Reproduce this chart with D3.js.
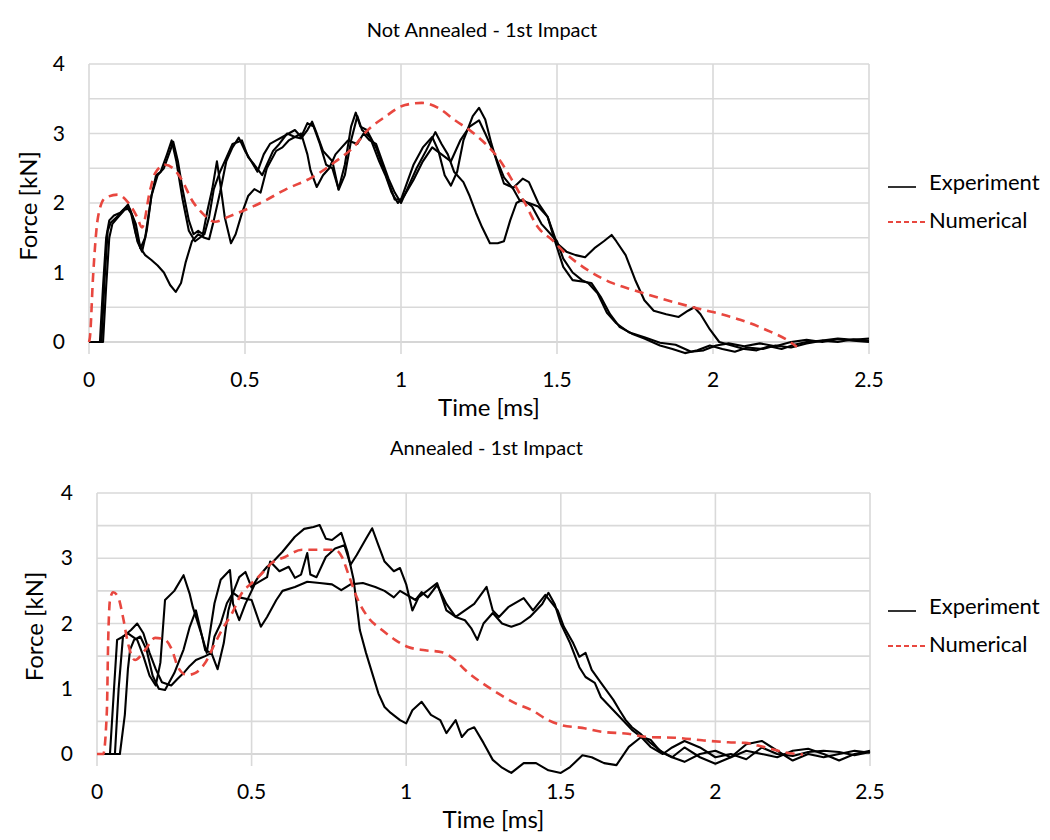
<!DOCTYPE html>
<html>
<head>
<meta charset="utf-8">
<script src="https://cdn.jsdelivr.net/npm/d3@7"></script>
<style>
  body { margin: 0; background: #fff; }
  text { font-family: Lato, "Open Sans", sans-serif; fill: #000; }
</style>
</head>
<body>
<svg width="1050" height="840"></svg>
<script>
// ---- data (time in ms, force in kN) ----
var xTicks = [0, 0.5, 1, 1.5, 2, 2.5];
var yTicks = [0, 1, 2, 3, 4];
var yGrid = [0, 0.5, 1, 1.5, 2, 2.5, 3, 3.5, 4];
var legendLabels = ["Experiment", "Numerical"];

// Not annealed - experiments
var naExp1 = [[0,0],[0.035,0],[0.045,0.8],[0.055,1.5],[0.065,1.75],[0.08,1.82],[0.1,1.86],[0.12,1.95],[0.135,1.85],[0.15,1.55],[0.165,1.35],[0.18,1.25],[0.2,1.18],[0.22,1.1],[0.24,1.0],[0.26,0.82],[0.278,0.72],[0.295,0.85],[0.31,1.15],[0.33,1.45],[0.35,1.55],[0.37,1.5],[0.385,1.48],[0.4,1.75],[0.42,2.15],[0.44,2.6],[0.46,2.8],[0.48,2.94],[0.5,2.75],[0.52,2.6],[0.54,2.45],[0.56,2.7],[0.58,2.85],[0.6,2.9],[0.62,2.95],[0.64,3.0],[0.66,3.05],[0.68,2.95],[0.7,3.15],[0.72,3.1],[0.74,2.85],[0.76,2.55],[0.78,2.5],[0.8,2.2],[0.82,2.55],[0.84,3.1],[0.855,3.3],[0.87,3.1],[0.89,3.05],[0.92,2.8],[0.94,2.55],[0.96,2.3],[0.98,2.05],[1.0,2.05],[1.02,2.3],[1.04,2.55],[1.07,2.8],[1.1,2.95],[1.12,2.75],[1.14,2.4],[1.16,2.25],[1.18,2.45],[1.2,2.9],[1.23,3.25],[1.25,3.37],[1.27,3.2],[1.29,2.85],[1.31,2.55],[1.33,2.28],[1.36,2.22],[1.39,2.35],[1.41,2.3],[1.44,2.0],[1.47,1.8],[1.5,1.42],[1.53,1.3],[1.56,1.25],[1.59,1.22],[1.62,1.35],[1.65,1.45],[1.675,1.54],[1.69,1.45],[1.72,1.25],[1.75,0.9],[1.78,0.6],[1.81,0.45],[1.85,0.4],[1.89,0.36],[1.92,0.45],[1.94,0.5],[1.96,0.4],[1.99,0.18],[2.02,0.0],[2.06,-0.05],[2.1,-0.1],[2.14,-0.12],[2.18,-0.06],[2.22,-0.1],[2.26,-0.04],[2.3,0.0],[2.35,0.02],[2.4,0.05],[2.45,0.03],[2.5,0.05]];
var naExp2 = [[0,0],[0.04,0],[0.05,0.9],[0.06,1.6],[0.07,1.72],[0.09,1.8],[0.11,1.9],[0.13,1.92],[0.15,1.7],[0.165,1.35],[0.18,1.5],[0.2,2.1],[0.22,2.4],[0.24,2.5],[0.26,2.75],[0.27,2.88],[0.285,2.6],[0.3,2.2],[0.32,1.75],[0.335,1.55],[0.35,1.6],[0.365,1.55],[0.38,1.9],[0.395,2.2],[0.41,2.6],[0.42,2.3],[0.435,1.8],[0.455,1.42],[0.47,1.55],[0.49,1.85],[0.51,2.1],[0.53,2.2],[0.55,2.15],[0.57,2.5],[0.6,2.75],[0.62,2.8],[0.64,2.9],[0.66,2.95],[0.68,3.0],[0.7,2.7],[0.71,2.47],[0.73,2.23],[0.75,2.4],[0.77,2.5],[0.79,2.7],[0.81,2.8],[0.83,2.9],[0.86,2.85],[0.88,3.0],[0.9,2.9],[0.92,2.85],[0.94,2.6],[0.96,2.35],[0.98,2.15],[1.0,2.0],[1.02,2.2],[1.05,2.5],[1.08,2.75],[1.11,3.02],[1.13,2.85],[1.15,2.7],[1.17,2.45],[1.2,2.3],[1.22,2.1],[1.24,1.86],[1.26,1.65],[1.285,1.42],[1.31,1.42],[1.33,1.45],[1.35,1.75],[1.37,2.0],[1.39,2.05],[1.42,1.95],[1.45,1.7],[1.48,1.55],[1.5,1.45],[1.52,1.2],[1.55,1.0],[1.58,0.89],[1.6,0.85],[1.63,0.7],[1.66,0.42],[1.69,0.27],[1.73,0.14],[1.78,0.07],[1.83,-0.01],[1.88,-0.04],[1.93,-0.14],[1.97,-0.12],[2.01,-0.05],[2.05,-0.02],[2.1,-0.06],[2.15,-0.02],[2.2,-0.06],[2.25,0.0],[2.3,0.03],[2.35,0.0],[2.4,0.04],[2.45,0.02],[2.5,0.0]];
var naExp3 = [[0,0],[0.045,0],[0.055,0.8],[0.065,1.5],[0.075,1.7],[0.09,1.78],[0.11,1.88],[0.125,1.98],[0.14,1.8],[0.155,1.45],[0.17,1.3],[0.185,1.6],[0.2,2.1],[0.215,2.4],[0.23,2.45],[0.25,2.7],[0.265,2.9],[0.28,2.6],[0.3,2.05],[0.32,1.6],[0.34,1.45],[0.355,1.5],[0.37,1.55],[0.385,1.8],[0.4,2.2],[0.42,2.45],[0.44,2.65],[0.46,2.85],[0.49,2.9],[0.51,2.66],[0.53,2.55],[0.555,2.4],[0.57,2.55],[0.59,2.75],[0.61,2.85],[0.635,3.0],[0.66,2.95],[0.68,2.93],[0.7,3.05],[0.715,3.17],[0.73,3.0],[0.75,2.75],[0.78,2.6],[0.8,2.19],[0.82,2.4],[0.84,2.9],[0.86,3.25],[0.875,3.05],[0.9,2.95],[0.93,2.6],[0.95,2.4],[0.97,2.15],[0.99,2.0],[1.01,2.1],[1.04,2.33],[1.07,2.6],[1.1,2.8],[1.13,2.7],[1.16,2.6],[1.19,2.9],[1.22,3.1],[1.25,3.19],[1.27,3.0],[1.3,2.7],[1.33,2.37],[1.36,2.2],[1.38,2.04],[1.41,2.0],[1.44,1.95],[1.47,1.8],[1.49,1.5],[1.52,1.08],[1.55,0.89],[1.58,0.87],[1.61,0.85],[1.64,0.65],[1.67,0.4],[1.7,0.22],[1.74,0.12],[1.78,0.05],[1.83,-0.05],[1.87,-0.1],[1.91,-0.16],[1.95,-0.12],[1.99,-0.05],[2.03,-0.1],[2.07,-0.14],[2.11,-0.08],[2.16,-0.1],[2.2,-0.05],[2.25,-0.08],[2.3,-0.02],[2.35,0.02],[2.4,0.0],[2.45,0.04],[2.5,0.02]];
// Not annealed - numerical
var naNum = [[0,0],[0.003,0.07],[0.013,0.94],[0.029,1.8],[0.051,2.07],[0.093,2.12],[0.125,2.01],[0.154,1.8],[0.17,1.65],[0.196,2.19],[0.212,2.43],[0.244,2.55],[0.269,2.5],[0.298,2.33],[0.33,2.04],[0.362,1.86],[0.404,1.73],[0.446,1.8],[0.5,1.9],[0.554,2.01],[0.628,2.19],[0.715,2.37],[0.788,2.59],[0.853,2.83],[0.885,3.01],[0.949,3.24],[1.013,3.41],[1.067,3.44],[1.119,3.37],[1.173,3.19],[1.228,3.02],[1.269,2.86],[1.311,2.65],[1.356,2.33],[1.397,2.0],[1.439,1.65],[1.484,1.47],[1.526,1.28],[1.59,1.06],[1.676,0.85],[1.744,0.75],[1.853,0.6],[1.936,0.5],[2.0,0.43],[2.087,0.32],[2.173,0.17],[2.237,0.03],[2.269,-0.07]];

// Annealed - experiments
var anExp1 = [[0,0],[0.042,0],[0.055,1.0],[0.065,1.75],[0.085,1.8],[0.11,1.9],[0.13,2.0],[0.15,1.85],[0.17,1.55],[0.19,1.3],[0.21,1.1],[0.24,1.05],[0.26,1.15],[0.28,1.24],[0.3,1.35],[0.32,1.44],[0.35,1.5],[0.37,1.55],[0.39,1.3],[0.41,1.7],[0.425,2.2],[0.44,2.47],[0.46,2.71],[0.48,2.79],[0.5,2.55],[0.52,2.7],[0.55,2.87],[0.57,2.95],[0.6,3.1],[0.64,3.33],[0.67,3.45],[0.7,3.48],[0.72,3.51],[0.74,3.3],[0.76,3.28],[0.79,3.39],[0.81,3.1],[0.83,2.67],[0.85,1.9],[0.87,1.55],[0.89,1.24],[0.91,0.93],[0.93,0.72],[0.95,0.63],[0.98,0.52],[1.0,0.47],[1.02,0.67],[1.05,0.8],[1.08,0.6],[1.11,0.52],[1.13,0.32],[1.16,0.52],[1.18,0.26],[1.2,0.37],[1.22,0.41],[1.25,0.17],[1.28,-0.09],[1.31,-0.21],[1.34,-0.29],[1.38,-0.14],[1.42,-0.14],[1.46,-0.25],[1.5,-0.29],[1.53,-0.2],[1.57,-0.02],[1.6,-0.05],[1.64,-0.14],[1.68,-0.17],[1.72,0.11],[1.76,0.26],[1.79,0.22],[1.82,0.05],[1.86,-0.05],[1.9,-0.12],[1.95,0.0],[2.0,0.05],[2.05,-0.05],[2.1,0.15],[2.15,0.2],[2.2,0.05],[2.25,-0.1],[2.3,0.0],[2.35,-0.05],[2.4,0.0],[2.45,0.05],[2.5,0.02]];
var anExp2 = [[0,0],[0.058,0],[0.07,1.0],[0.084,1.8],[0.1,1.85],[0.13,1.75],[0.15,1.5],[0.17,1.2],[0.19,1.05],[0.205,1.4],[0.22,2.36],[0.25,2.5],[0.28,2.74],[0.3,2.45],[0.31,2.25],[0.34,1.8],[0.35,1.59],[0.37,1.55],[0.38,1.8],[0.4,2.0],[0.42,2.31],[0.44,2.47],[0.46,2.4],[0.5,2.36],[0.53,1.95],[0.55,2.1],[0.58,2.36],[0.6,2.5],[0.64,2.56],[0.68,2.64],[0.72,2.62],[0.76,2.6],[0.79,2.51],[0.82,2.6],[0.86,2.62],[0.9,2.56],[0.93,2.5],[0.96,2.4],[0.98,2.5],[1.03,2.36],[1.05,2.48],[1.07,2.4],[1.1,2.59],[1.13,2.3],[1.16,2.1],[1.19,2.2],[1.22,2.3],[1.26,2.56],[1.28,2.2],[1.3,2.1],[1.33,2.25],[1.38,2.39],[1.41,2.2],[1.45,2.44],[1.49,2.2],[1.51,1.95],[1.54,1.7],[1.56,1.49],[1.58,1.55],[1.6,1.29],[1.63,1.09],[1.67,0.83],[1.69,0.67],[1.71,0.52],[1.73,0.41],[1.76,0.3],[1.79,0.17],[1.83,0.02],[1.86,-0.05],[1.9,0.1],[1.95,-0.05],[2.0,-0.15],[2.05,-0.05],[2.1,0.05],[2.15,0.0],[2.2,-0.05],[2.25,0.05],[2.3,0.08],[2.35,0.0],[2.4,-0.1],[2.45,0.0],[2.5,0.05]];
var anExp3 = [[0,0],[0.074,0],[0.09,0.6],[0.1,1.3],[0.107,1.6],[0.12,1.75],[0.14,1.8],[0.16,1.6],[0.18,1.2],[0.2,1.0],[0.22,0.98],[0.25,1.24],[0.28,1.6],[0.3,1.95],[0.32,2.2],[0.34,1.8],[0.355,1.55],[0.38,2.31],[0.4,2.67],[0.43,2.82],[0.44,2.3],[0.46,2.05],[0.48,2.3],[0.51,2.6],[0.55,2.71],[0.56,2.95],[0.59,2.8],[0.62,2.87],[0.64,2.7],[0.66,2.75],[0.68,3.08],[0.69,2.75],[0.71,2.71],[0.74,3.02],[0.77,3.15],[0.8,3.2],[0.82,2.9],[0.84,3.05],[0.87,3.3],[0.89,3.46],[0.91,3.2],[0.93,2.95],[0.96,2.8],[0.98,2.85],[1.0,2.6],[1.02,2.2],[1.04,2.4],[1.07,2.51],[1.1,2.62],[1.13,2.2],[1.16,2.1],[1.19,2.05],[1.21,1.93],[1.23,1.75],[1.25,2.0],[1.28,2.16],[1.31,2.0],[1.34,1.95],[1.37,2.0],[1.4,2.1],[1.44,2.3],[1.46,2.47],[1.48,2.3],[1.5,2.0],[1.53,1.7],[1.56,1.33],[1.58,1.18],[1.61,1.09],[1.63,0.87],[1.66,0.72],[1.7,0.52],[1.73,0.37],[1.76,0.26],[1.79,0.11],[1.83,0.0],[1.86,0.1],[1.9,0.2],[1.95,0.1],[2.0,-0.05],[2.05,0.0],[2.1,-0.08],[2.15,0.1],[2.2,0.0],[2.25,-0.03],[2.3,0.03],[2.35,0.05],[2.4,0.03],[2.45,-0.02],[2.5,0.03]];
// Annealed - numerical
var anNum = [[0,0],[0.02,0],[0.032,0.67],[0.036,1.7],[0.042,2.36],[0.052,2.48],[0.068,2.41],[0.084,2.1],[0.1,1.7],[0.123,1.44],[0.155,1.59],[0.188,1.78],[0.22,1.75],[0.243,1.59],[0.262,1.33],[0.291,1.21],[0.317,1.24],[0.349,1.39],[0.382,1.7],[0.404,1.9],[0.437,2.16],[0.469,2.47],[0.501,2.62],[0.534,2.77],[0.566,2.93],[0.608,3.02],[0.663,3.13],[0.728,3.13],[0.77,3.13],[0.792,3.02],[0.812,2.77],[0.844,2.36],[0.876,2.1],[0.922,1.9],[0.964,1.75],[1.006,1.64],[1.061,1.59],[1.116,1.56],[1.158,1.44],[1.19,1.29],[1.245,1.09],[1.297,0.93],[1.352,0.78],[1.407,0.67],[1.459,0.52],[1.504,0.44],[1.569,0.4],[1.633,0.34],[1.717,0.31],[1.782,0.26],[1.869,0.25],[1.957,0.21],[2.041,0.18],[2.096,0.17],[2.154,0.11],[2.219,0.03],[2.283,-0.01]];

var panels = [
  { title: "Not Annealed - 1st Impact", exp: [naExp1, naExp2, naExp3], num: naNum,
    left: 89, right: 869, top: 64, bottom: 342, titleY: 37, yLabelX: 37, legendY: 182 },
  { title: "Annealed - 1st Impact", exp: [anExp1, anExp2, anExp3], num: anNum,
    left: 97, right: 870, top: 493, bottom: 754, titleY: 455, yLabelX: 43, legendY: 606 }
];

var svg = d3.select("svg");
var gridColor = "#d9d9d9";
var redColor = "#e8473f";

panels.forEach(function (p) {
  var xScale = d3.scaleLinear().domain([0, 2.5]).range([p.left, p.right]);
  var yScale = d3.scaleLinear().domain([0, 4]).range([p.bottom, p.top]);
  var g = svg.append("g");

  // horizontal grid
  g.selectAll(".hgrid").data(yGrid).enter().append("line")
    .attr("x1", p.left).attr("x2", p.right)
    .attr("y1", function (d) { return yScale(d); })
    .attr("y2", function (d) { return yScale(d); })
    .attr("stroke", function (d) { return d === 0 ? "#c8c8c8" : gridColor; })
    .attr("stroke-width", 1.6);

  // vertical grid (extends below as tick)
  g.selectAll(".vgrid").data(xTicks).enter().append("line")
    .attr("x1", function (d) { return xScale(d); })
    .attr("x2", function (d) { return xScale(d); })
    .attr("y1", p.top).attr("y2", p.bottom + 12)
    .attr("stroke", gridColor).attr("stroke-width", 1.6);

  // tick labels
  g.selectAll(".xlab").data(xTicks).enter().append("text")
    .attr("x", function (d) { return xScale(d); })
    .attr("y", p.bottom + 45)
    .attr("text-anchor", "middle")
    .style("font-size", "21px")
    .text(function (d) { return d; });

  g.selectAll(".ylab").data(yTicks).enter().append("text")
    .attr("x", p.left - 24)
    .attr("y", function (d) { return yScale(d) + 7; })
    .attr("text-anchor", "end")
    .style("font-size", "21px")
    .text(function (d) { return d; });

  // axis titles
  g.append("text")
    .attr("x", (p.left + p.right) / 2 + 10)
    .attr("y", p.bottom + 74)
    .attr("text-anchor", "middle")
    .style("font-size", "24px")
    .text("Time [ms]");

  g.append("text")
    .attr("transform", "translate(" + p.yLabelX + "," + ((p.top + p.bottom) / 2 + 3) + ") rotate(-90)")
    .attr("text-anchor", "middle")
    .style("font-size", "24px")
    .text("Force [kN]");

  // chart title
  g.append("text")
    .attr("x", (p.left + p.right) / 2 + 3)
    .attr("y", p.titleY)
    .attr("text-anchor", "middle")
    .style("font-size", "20px")
    .text(p.title);

  var line = d3.line()
    .x(function (d) { return xScale(d[0]); })
    .y(function (d) { return yScale(d[1]); });

  g.selectAll(".exp").data(p.exp).enter().append("path")
    .attr("d", line)
    .attr("fill", "none")
    .attr("stroke", "#000")
    .attr("stroke-width", 2.1)
    .attr("stroke-linejoin", "round");

  g.append("path")
    .attr("d", line.curve(d3.curveMonotoneX)(p.num))
    .attr("fill", "none")
    .attr("stroke", redColor)
    .attr("stroke-width", 2.6)
    .attr("stroke-dasharray", "9,6");

  // legend
  var lg = g.append("g").attr("transform", "translate(888," + p.legendY + ")");
  lg.append("line").attr("x1", 0).attr("x2", 28).attr("y1", 5).attr("y2", 5)
    .attr("stroke", "#000").attr("stroke-width", 1.6);
  lg.append("line").attr("x1", 0).attr("x2", 37).attr("y1", 40).attr("y2", 40)
    .attr("stroke", redColor).attr("stroke-width", 2).attr("stroke-dasharray", "5,3");
  lg.selectAll("text").data(legendLabels).enter().append("text")
    .attr("x", 41)
    .attr("y", function (d, i) { return 8 + i * 38; })
    .style("font-size", "22px")
    .text(function (d) { return d; });
});
</script>
</body>
</html>
